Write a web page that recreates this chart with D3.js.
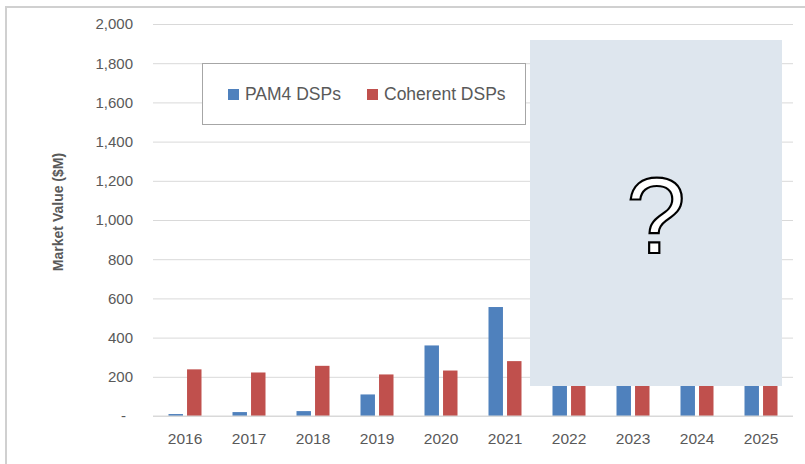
<!DOCTYPE html>
<html>
<head>
<meta charset="utf-8">
<script src="https://cdn.jsdelivr.net/npm/d3@7"></script>
<style>
	body { margin: 0; background: #fff; }
	text { font-family: "Liberation Sans", Arial, sans-serif; }
</style>
</head>
<body>
<svg id="chart"></svg>
<script>
const width = 805, height = 464;

// data (2022-2025 are hidden behind the "?" panel, estimated)
const years = ['2016', '2017', '2018', '2019', '2020', '2021', '2022', '2023', '2024', '2025'];
const pam4 = [10, 20, 25, 110, 360, 556, 760, 960, 1160, 1360];
const coherent = [238, 222, 256, 212, 232, 280, 320, 360, 400, 440];
const seriesNames = ['PAM4 DSPs', 'Coherent DSPs'];
const seriesColors = ['#4f81bd', '#c0504d'];
const yTicks = [0, 200, 400, 600, 800, 1000, 1200, 1400, 1600, 1800, 2000];

const plot = { left: 153, right: 793, top: 24, bottom: 416 };

const svg = d3.select('#chart')
	.attr('width', width)
	.attr('height', height);

// outer chart border
svg.append('rect')
	.attr('x', 6).attr('y', 7)
	.attr('width', width + 10).attr('height', height + 10)
	.attr('fill', 'none')
	.attr('stroke', '#d0d0d0')
	.attr('stroke-width', 2);

const x0 = d3.scaleBand()
	.domain(years)
	.range([plot.left, plot.right]);

const x1 = d3.scaleBand()
	.domain(seriesNames)
	.range([0, 33])
	.paddingInner(0.22);

const groupOffset = (x0.bandwidth() - 33) / 2;

const y = d3.scaleLinear()
	.domain([0, 2000])
	.range([plot.bottom, plot.top]);

// gridlines + y labels
const yAxis = d3.axisLeft(y)
	.tickValues(yTicks)
	.tickSize(-(plot.right - plot.left))
	.tickPadding(20)
	.tickFormat(d => d === 0 ? '-' : d3.format(',')(d));

const gy = svg.append('g')
	.attr('transform', `translate(${plot.left},0)`)
	.call(yAxis);
gy.select('.domain').remove();
gy.selectAll('.tick line').attr('stroke', '#d9d9d9').attr('stroke-width', 1);
gy.selectAll('.tick text')
	.attr('fill', '#595959')
	.style('font-size', '15px')
	.attr('x', d => d === 0 ? -27 : -20);

// bars
const rows = years.map((yr, i) => ({ year: yr, values: [pam4[i], coherent[i]] }));

const groups = svg.selectAll('.year')
	.data(rows)
	.enter()
	.append('g')
	.attr('class', 'year')
	.attr('transform', d => `translate(${x0(d.year) + groupOffset},0)`);

groups.selectAll('rect')
	.data(d => d.values.map((v, i) => ({ key: seriesNames[i], value: v, color: seriesColors[i] })))
	.enter()
	.append('rect')
	.attr('x', d => x1(d.key))
	.attr('width', x1.bandwidth())
	.attr('y', d => y(d.value))
	.attr('height', d => y(0) - y(d.value))
	.attr('fill', d => d.color);

// baseline
svg.append('line')
	.attr('x1', plot.left).attr('x2', plot.right)
	.attr('y1', y(0)).attr('y2', y(0))
	.attr('stroke', '#d9d9d9');

// x axis labels
const gx = svg.append('g')
	.attr('transform', `translate(0,${plot.bottom})`)
	.call(d3.axisBottom(x0).tickSize(0).tickPadding(17));
gx.select('.domain').remove();
gx.selectAll('.tick text')
	.attr('fill', '#595959')
	.style('font-size', '15.5px');

// y axis title
svg.append('text')
	.attr('transform', 'translate(63,212) rotate(-90)')
	.attr('text-anchor', 'middle')
	.attr('fill', '#595959')
	.style('font-size', '14px')
	.style('font-weight', 'bold')
	.text('Market Value ($M)');

// legend
const legend = svg.append('g');
legend.append('rect')
	.attr('x', 202.5).attr('y', 63.5)
	.attr('width', 323).attr('height', 61)
	.attr('fill', '#fff')
	.attr('stroke', '#a6a6a6');

const legendX = [228, 367];
seriesNames.forEach((name, i) => {
	legend.append('rect')
		.attr('x', legendX[i]).attr('y', 89)
		.attr('width', 11).attr('height', 11)
		.attr('fill', seriesColors[i]);
	legend.append('text')
		.attr('x', legendX[i] + 17).attr('y', 100)
		.attr('fill', '#595959')
		.style('font-size', '17.5px')
		.text(name);
});

// the "?" panel covering the forecast years
svg.append('rect')
	.attr('x', 530).attr('y', 40)
	.attr('width', 252).attr('height', 346)
	.attr('fill', '#dee6ee');

svg.append('text')
	.attr('x', 656).attr('y', 253)
	.attr('text-anchor', 'middle')
	.attr('fill', '#fff')
	.attr('stroke', '#000')
	.attr('stroke-width', 2.2)
	.style('font-size', '107px')
	.text('?');
</script>
</body>
</html>
